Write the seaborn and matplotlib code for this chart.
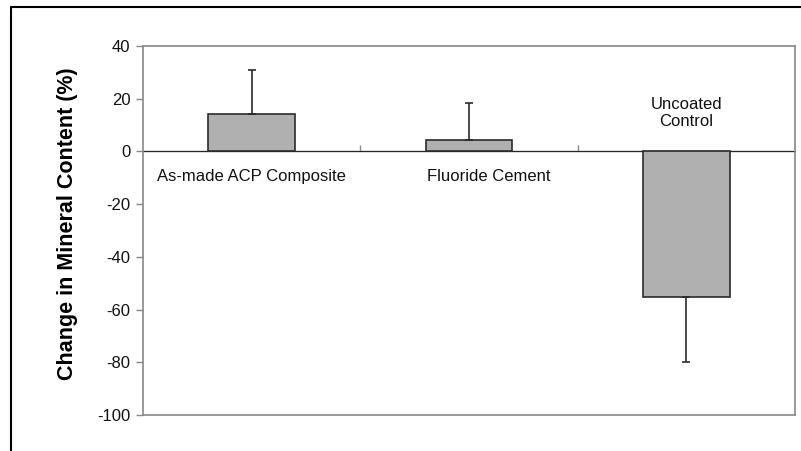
import matplotlib
matplotlib.use("Agg")
import matplotlib.pyplot as plt
from matplotlib.lines import Line2D
import seaborn as sns
import numpy as np

categories = ["As-made ACP Composite", "Fluoride Cement", "Uncoated Control"]
values = [14.4, 4.4, -55.3]
err_up = [16.7, 14.0, 0.0]
err_down = [0.0, 0.0, 24.5]
labels = ["As-made ACP Composite", "Fluoride Cement", "Uncoated\nControl"]
yticks = [-100, -80, -60, -40, -20, 0, 20, 40]

sns.set_style("white")
plt.rcParams['font.family'] = ['Liberation Sans', 'DejaVu Sans']

fig = plt.figure(figsize=(8.01, 4.51), dpi=100)
ax = fig.add_axes([0.1785, 0.0798, 0.814, 0.818])

sns.barplot(x=categories, y=values, color="#b0b0b0", edgecolor="#2b2b2b",
            linewidth=1.2, width=0.4, saturation=1, errorbar=None, ax=ax)

x = np.arange(len(categories))
ax.errorbar(x, values, yerr=[err_down, err_up], fmt="none", ecolor="#2b2b2b",
            elinewidth=1.2, capsize=3, capthick=1.2)

ax.set_ylim(-100, 40)
ax.set_xlim(-0.5, 2.5)
ax.set_yticks(yticks)
ax.set_yticklabels([str(t) for t in yticks], fontsize=12, color="#111111")
ax.set_xticks([])
ax.set_xlabel("")
ax.set_ylabel("Change in Mineral Content (%)", fontsize=15.5, fontweight="bold",
              color="black")
ax.yaxis.set_label_coords(-0.10, 0.518)
ax.tick_params(axis="y", direction="out", length=5, width=1, color="#888888",
               left=True, pad=4)

for s in ax.spines.values():
    s.set_color("#888888")
    s.set_linewidth(1.2)

ax.axhline(0, color="#888888", lw=1, zorder=0)

# category boundary ticks on the zero line
sec = ax.secondary_xaxis(100 / 140)
sec.set_xticks([0.5, 1.5])
sec.set_xticklabels([])
sec.tick_params(direction="out", length=4, width=1, color="#888888")
sec.spines["bottom"].set_visible(False)

# category labels
ax.text(x[0], -9.5, labels[0], ha="center", va="center", fontsize=12, color="#111111")
ax.text(x[1] + 0.09, -9.5, labels[1], ha="center", va="center", fontsize=12, color="#111111")
ax.text(x[2], 14.5, labels[2], ha="center", va="center", fontsize=12, color="#111111",
        linespacing=1.15)

# outer frame
fig.add_artist(Line2D([11 / 801, 1], [1 - 7 / 451, 1 - 7 / 451], color="black", lw=1.5))
fig.add_artist(Line2D([11 / 801, 11 / 801], [0, 1 - 7 / 451], color="black", lw=1.5))

fig.savefig("out.png", dpi=100)
